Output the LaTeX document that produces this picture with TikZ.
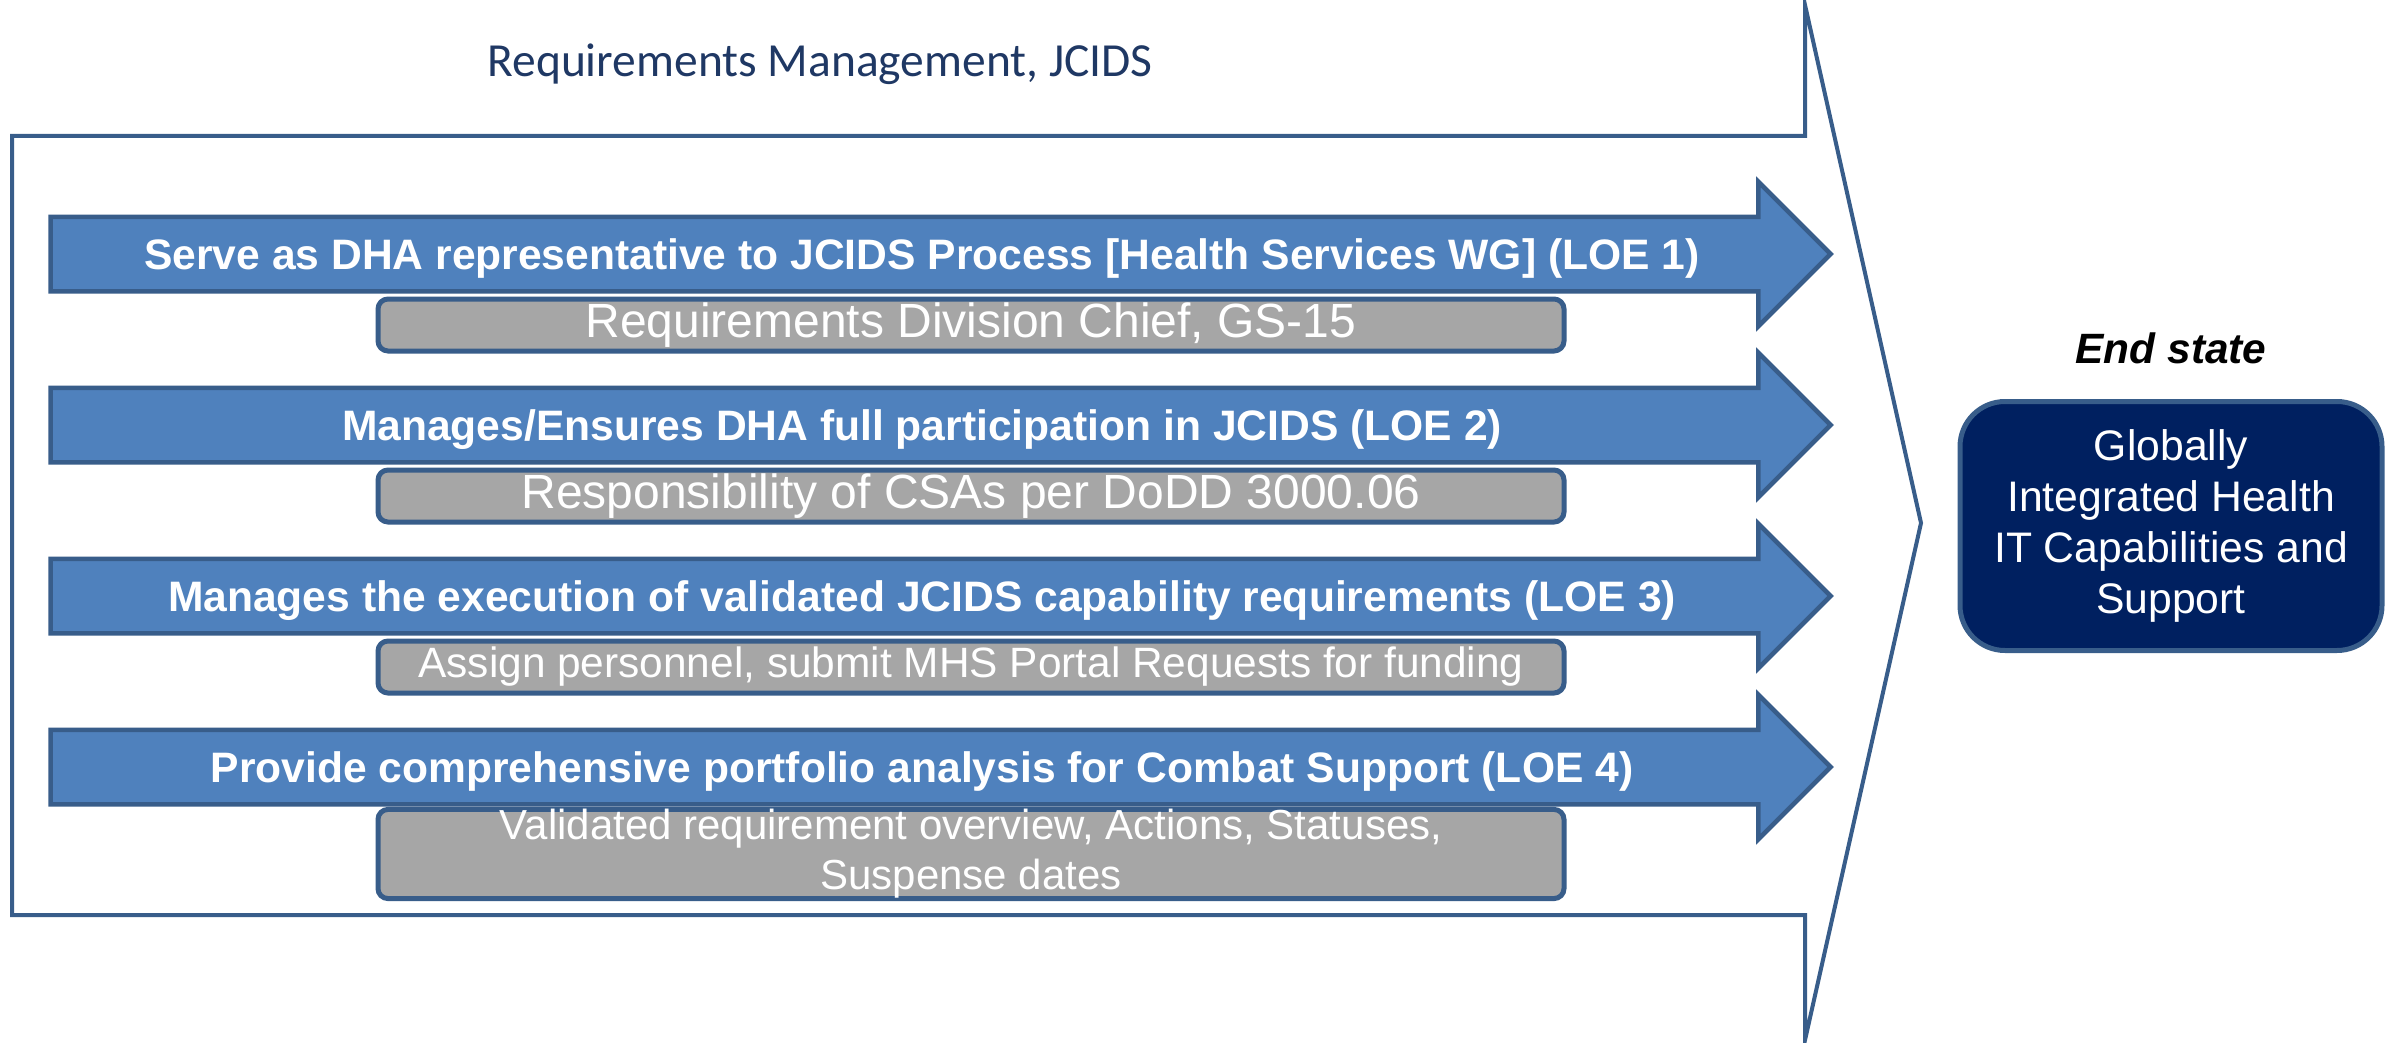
\documentclass[tikz,border=0pt]{standalone}
\usepackage{fontspec}
\setmainfont{Liberation Sans}
\newfontfamily\titlefont{Carlito}
\usetikzlibrary{shapes.arrows}

\definecolor{edgeblue}{HTML}{385D8A}
\definecolor{loeblue}{HTML}{4F81BD}
\definecolor{rolegray}{HTML}{A6A6A6}
\definecolor{goalnavy}{HTML}{002060}
\definecolor{titlenavy}{HTML}{1F3864}

\begin{document}
\begin{tikzpicture}[x=1pt, y=-1pt, node distance=171pt,
    loe/.style={single arrow, draw=edgeblue, fill=loeblue, line width=4.5pt,
        single arrow tip angle=90, single arrow head extend=35pt,
        minimum height=1780pt, inner xsep=0pt, inner ysep=0pt,
        text height=50pt, text depth=20pt, text=white,
        font=\fontsize{42.6}{51}\selectfont\bfseries},
    role/.style={draw=edgeblue, fill=rolegray, line width=5pt, rounded corners=10pt,
        minimum width=1186pt, minimum height=52pt, inner sep=0pt, text=white, align=center},
    goal/.style={draw=edgeblue, fill=goalnavy, line width=5pt, rounded corners=45pt,
        minimum width=422pt, minimum height=249pt, inner sep=0pt, text=white, align=center,
        font=\fontsize{42.7}{51}\selectfont}]
    \useasboundingbox (0,0) rectangle (2392,1043);

    % Outer frame
    \draw[edgeblue, line width=4pt, fill=white] (12,136) -- (1805,136) -- (1805,5) -- (1921,523)
        -- (1805,1040) -- (1805,915) -- (12,915) -- cycle;
    \node[text=titlenavy, font=\titlefont\fontsize{47.5}{56}\selectfont] (title) at (820,64) {Requirements Management, JCIDS};

    % Lines of effort
    \node[loe] (loe1) at (922,254) {Serve as DHA representative to JCIDS Process [Health Services WG] (LOE 1)};
    \node[loe] (loe2) [below of=loe1] {Manages/Ensures DHA full participation in JCIDS (LOE 2)};
    \node[loe] (loe3) [below of=loe2] {Manages the execution of validated JCIDS capability requirements (LOE 3)};
    \node[loe] (loe4) [below of=loe3] {Provide comprehensive portfolio analysis for Combat Support (LOE 4)};

    % Roles
    \node[role, font=\fontsize{48}{56}\selectfont] (role1) [below of=loe1, node distance=71pt, xshift=49pt] {Requirements Division Chief, GS-15};
    \node[role, font=\fontsize{48}{56}\selectfont] (role2) [below of=loe2, node distance=71pt, xshift=49pt] {Responsibility of CSAs per DoDD 3000.06};
    \node[role, font=\fontsize{42.4}{50}\selectfont] (role3) [below of=loe3, node distance=71pt, xshift=49pt] {Assign personnel, submit MHS Portal Requests for funding};
    \node[role, font=\fontsize{42}{50}\selectfont, minimum height=87pt] (role4) [below of=loe4, node distance=87pt, xshift=49pt] {Validated requirement overview, Actions, Statuses,\\Suspense dates};

    % End state
    \node[goal] (goal) at (2171,526) {Globally\\Integrated Health\\IT Capabilities and\\Support};
    \node[font=\fontsize{42.4}{51}\selectfont\bfseries\itshape] (endlabel) [above of=goal, node distance=178pt] {End state};
\end{tikzpicture}
\end{document}
